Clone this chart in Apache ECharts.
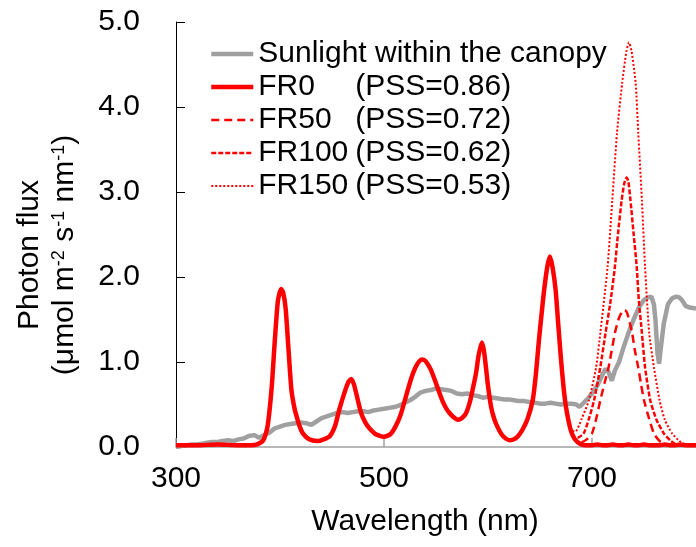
<!DOCTYPE html>
<html><head><meta charset="utf-8">
<script src="https://cdn.jsdelivr.net/npm/echarts@6/dist/echarts.min.js"></script>
<style>html,body{margin:0;padding:0;background:#fff}#c{width:696px;height:547px}</style>
</head><body><div id="c"></div>
<script>
// ---- data ----
const seriesNames = ['Sunlight within the canopy', 'FR0', 'FR50', 'FR100', 'FR150'];
const pssLabels = ['', '(PSS=0.86)', '(PSS=0.72)', '(PSS=0.62)', '(PSS=0.53)'];
const xTicks = [300, 500, 700];
const yTicks = [0, 1, 2, 3, 4, 5];

// Sunlight within the canopy
const sunWl = [300,305,310,315,320,325,330,335,340,345,350,355,360,365,370,375,380,385,390,395,400,405,410,415,420,425,430,435,440,445,450,455,460,465,470,475,480,485,490,495,500,505,510,515,520,525,530,535,540,545,550,555,560,565,570,575,580,585,590,595,600,605,610,615,620,625,630,635,640,645,650,655,660,665,670,675,680,685,688,692,696,700,705,710,713,716,719,722,726,730,735,740,745,750,754,757,759.5,761,763,764.5,766,769,773,777,781,784,787,790,794,800];
const sunVal = [0.00,0.01,0.02,0.03,0.03,0.04,0.05,0.06,0.06,0.07,0.08,0.07,0.09,0.10,0.13,0.14,0.11,0.14,0.17,0.22,0.24,0.26,0.27,0.28,0.29,0.28,0.26,0.30,0.34,0.36,0.38,0.40,0.41,0.40,0.41,0.42,0.42,0.41,0.43,0.44,0.45,0.46,0.47,0.49,0.52,0.55,0.59,0.64,0.66,0.67,0.69,0.68,0.67,0.66,0.63,0.62,0.63,0.61,0.60,0.58,0.59,0.58,0.57,0.56,0.56,0.55,0.54,0.54,0.53,0.52,0.51,0.51,0.52,0.51,0.50,0.51,0.51,0.50,0.47,0.52,0.57,0.63,0.72,0.85,0.92,0.88,0.78,0.90,1.00,1.16,1.34,1.50,1.64,1.73,1.76,1.77,1.68,1.50,1.10,0.98,1.15,1.45,1.68,1.75,1.77,1.76,1.72,1.66,1.64,1.63];

// LED visible part (shared by all LED treatments)
const ledWl = [300,320,340,360,372,378,384,388,392,395,398,401,403,405.5,408,411,414,416,419,422,428,436,442,448,453,457,462,466,468.5,471,473.5,478,482,486,492,500,506,511,516,521,526,530,534,537,540,545,550,555,559,563,567,571,575,579,583,586,588.5,591,594,596,598,600,603,606,609,613,617,621,625,629,633,638,643,646,649,652,654,657,659.5,662,665,667.5,670,672.5,675,679.5];
const ledVal = [0.02,0.02,0.03,0.02,0.02,0.03,0.08,0.24,0.70,1.25,1.72,1.86,1.82,1.62,1.18,0.67,0.45,0.36,0.24,0.16,0.09,0.07,0.09,0.13,0.25,0.44,0.64,0.77,0.80,0.74,0.62,0.40,0.29,0.22,0.15,0.12,0.15,0.24,0.38,0.59,0.80,0.93,1.01,1.03,1.01,0.91,0.75,0.58,0.47,0.40,0.35,0.32,0.34,0.40,0.55,0.72,0.87,1.08,1.23,1.14,0.94,0.72,0.47,0.33,0.24,0.15,0.10,0.08,0.09,0.13,0.20,0.33,0.55,0.85,1.26,1.62,1.85,2.12,2.24,2.12,1.85,1.45,1.06,0.72,0.47,0.20];

// far-red tails of each treatment
const fr0TailWl  = [683,686,690,694,700,705,710,715,720,725,730,735,740,745,750,755,760,765,770,775,780,785,790,795,800];
const fr0TailVal = [0.10,0.06,0.03,0.02,0.02,0.03,0.02,0.02,0.03,0.02,0.02,0.03,0.02,0.02,0.03,0.02,0.02,0.02,0.03,0.02,0.02,0.03,0.02,0.02,0.02];
const fr50TailWl  = [683,690,695,700,704,708,712,716,722,726,729,731.6,734,738.6,741,744.4,747,750,755,759.5,765,772,780,790,800];
const fr50TailVal = [0.10,0.06,0.09,0.16,0.33,0.55,0.75,0.94,1.34,1.52,1.59,1.61,1.57,1.34,1.15,0.94,0.75,0.55,0.33,0.16,0.07,0.03,0.02,0.02,0.02];
const fr100TailWl  = [683,686,692,697,702,708,713,718,722,725,728.5,731,733.3,735,737,740,743,745,748,751,756,762,769,775,781,790,800];
const fr100TailVal = [0.12,0.11,0.16,0.33,0.55,0.94,1.34,1.73,2.12,2.51,2.90,3.10,3.17,3.12,2.90,2.51,2.12,1.73,1.34,0.94,0.55,0.32,0.16,0.08,0.03,0.02,0.02];
const fr150TailWl  = [684,690,697,704,708,715,719.5,724,729,733,735.5,738,742,744.5,748,751,755,759.5,765,770,777,784,790,800];
const fr150TailVal = [0.18,0.33,0.55,0.94,1.34,2.12,2.90,3.69,4.28,4.65,4.76,4.66,4.28,3.69,2.90,2.12,1.34,0.94,0.55,0.32,0.16,0.07,0.03,0.02];

// ---- build ----
const pairs = (xs, ys) => xs.map((x, i) => [x, ys[i]]);
const ledPart = pairs(ledWl, ledVal);
const FONT = '"Liberation Sans", Arial, sans-serif';
const RED = '#ff0000';
const GRAY = '#a0a0a0';

const chart = echarts.init(document.getElementById('c'), null, {renderer: 'canvas'});
const option = {
  animation: false,
  backgroundColor: '#ffffff',
  textStyle: {fontFamily: FONT},
  grid: {left: 176, top: 22, right: -2, bottom: 100},
  xAxis: {
    type: 'value', min: 300, max: 800, interval: 200,
    axisLine: {show: true, lineStyle: {color: GRAY, width: 1.5}},
    axisTick: {show: true, inside: true, length: 9, lineStyle: {color: GRAY, width: 1.5}},
    axisLabel: {fontSize: 30, color: '#000', fontFamily: FONT, margin: 17, showMaxLabel: false,
      formatter: v => xTicks.includes(v) ? String(v) : ''},
    splitLine: {show: false},
    name: 'Wavelength (nm)', nameLocation: 'middle', nameGap: 60,
    nameTextStyle: {fontSize: 30, color: '#000', fontFamily: FONT, padding: [0, 22, 0, 0]}
  },
  yAxis: {
    type: 'value', min: 0, max: 5, interval: 1,
    axisLine: {show: true, lineStyle: {color: '#000', width: 1}},
    axisTick: {show: true, inside: true, length: 9, lineStyle: {color: '#000', width: 1}},
    axisLabel: {fontSize: 30, color: '#000', fontFamily: FONT, margin: 36,
      formatter: v => yTicks.includes(v) ? v.toFixed(1) : ''},
    splitLine: {show: false}
  },
  legend: {
    orient: 'vertical', left: 209, top: 39, padding: 0, itemWidth: 42, itemHeight: 14, itemGap: 3,
    itemStyle: {opacity: 0},
    data: [
      {name: seriesNames[0], itemStyle: {opacity: 0}, lineStyle: {width: 4.5, color: GRAY, type: 'solid'}},
      {name: seriesNames[1], itemStyle: {opacity: 0}, lineStyle: {width: 4.5, color: RED, type: 'solid'}},
      {name: seriesNames[2], itemStyle: {opacity: 0}, lineStyle: {width: 2.5, color: RED, type: [8, 5]}},
      {name: seriesNames[3], itemStyle: {opacity: 0}, lineStyle: {width: 2.5, color: RED, type: [5, 2]}},
      {name: seriesNames[4], itemStyle: {opacity: 0}, lineStyle: {width: 2, color: RED, type: [2, 2]}}
    ],
    formatter: name => {
      const i = seriesNames.indexOf(name);
      return i === 0 ? name : '{a|' + name + '}{b|' + pssLabels[i] + '}';
    },
    textStyle: {fontSize: 30, color: '#000', fontFamily: FONT,
      rich: {a: {width: 97, fontSize: 30, color: '#000', fontFamily: FONT},
             b: {fontSize: 30, color: '#000', fontFamily: FONT}}}
  },
  graphic: [
    {type: 'text', x: 30, y: 255, rotation: Math.PI / 2,
     style: {text: 'Photon flux', fontSize: 30, fontFamily: FONT, fill: '#000', align: 'center', verticalAlign: 'middle'}},
    {type: 'text', x: 65, y: 255, rotation: Math.PI / 2,
     style: {text: '(\u03bcmol m{s|-2} s{s|-1} nm{s|-1})', fontSize: 30, fontFamily: FONT, fill: '#000',
       align: 'center', verticalAlign: 'middle',
       rich: {s: {fontSize: 18, fontFamily: FONT, fill: '#000', verticalAlign: 'top'}}}}
  ],
  series: [
    {name: seriesNames[0], type: 'line', symbol: 'none', showSymbol: false, z: 2,
     lineStyle: {color: GRAY, width: 4.5}, itemStyle: {color: GRAY},
     data: pairs(sunWl, sunVal)},
    {name: seriesNames[4], type: 'line', symbol: 'none', showSymbol: false, smooth: 0.2, z: 3,
     lineStyle: {color: RED, width: 2, type: [2, 2]}, itemStyle: {color: RED},
     data: ledPart.concat(pairs(fr150TailWl, fr150TailVal))},
    {name: seriesNames[3], type: 'line', symbol: 'none', showSymbol: false, smooth: 0.2, z: 3,
     lineStyle: {color: RED, width: 2.5, type: [5, 2]}, itemStyle: {color: RED},
     data: ledPart.concat(pairs(fr100TailWl, fr100TailVal))},
    {name: seriesNames[2], type: 'line', symbol: 'none', showSymbol: false, smooth: 0.2, z: 3,
     lineStyle: {color: RED, width: 2.5, type: [8, 5]}, itemStyle: {color: RED},
     data: ledPart.concat(pairs(fr50TailWl, fr50TailVal))},
    {name: seriesNames[1], type: 'line', symbol: 'none', showSymbol: false, smooth: 0.2, z: 4,
     lineStyle: {color: RED, width: 4.5, type: 'solid'}, itemStyle: {color: RED},
     data: ledPart.concat(pairs(fr0TailWl, fr0TailVal))}
  ]
};
chart.setOption(option);
</script></body></html>
